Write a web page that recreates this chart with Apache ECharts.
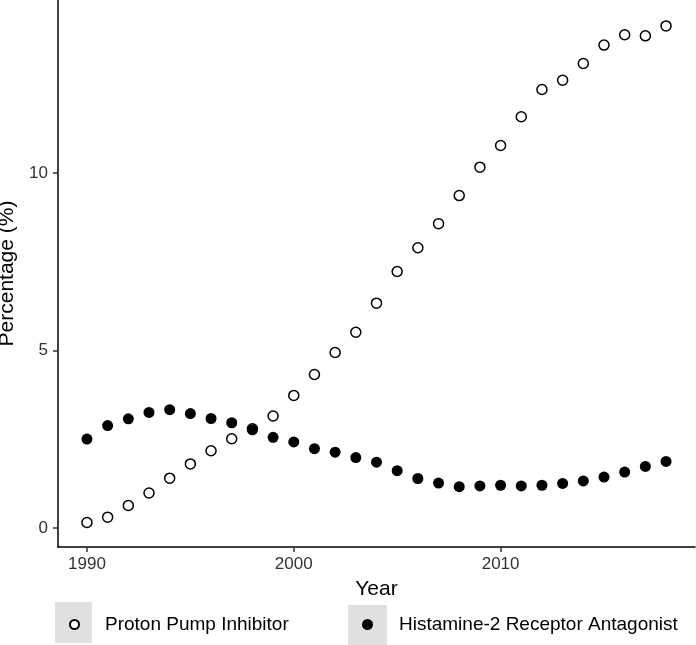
<!DOCTYPE html>
<html>
<head>
<meta charset="utf-8">
<script src="https://cdn.jsdelivr.net/npm/echarts@6/dist/echarts.min.js"></script>
<style>
html,body{margin:0;padding:0;background:#fff;}
#chart{width:696px;height:645px;}
</style>
</head>
<body>
<div id="chart"></div>
<script>
var years = [1990,1991,1992,1993,1994,1995,1996,1997,1998,1999,2000,2001,2002,2003,2004,2005,2006,2007,2008,2009,2010,2011,2012,2013,2014,2015,2016,2017,2018];
var ppi = [0.16,0.31,0.64,0.99,1.41,1.81,2.18,2.52,2.80,3.16,3.74,4.33,4.95,5.52,6.34,7.23,7.90,8.58,9.37,10.17,10.78,11.59,12.36,12.62,13.09,13.61,13.90,13.87,14.15];
var h2ra = [2.51,2.89,3.08,3.26,3.34,3.23,3.09,2.97,2.77,2.56,2.43,2.24,2.14,1.99,1.86,1.62,1.40,1.27,1.17,1.19,1.21,1.19,1.21,1.26,1.33,1.44,1.58,1.74,1.88];
var xTicks = [1990,2000,2010];
var yTicks = [0,5,10];
var seriesNames = ['Proton Pump Inhibitor','Histamine-2 Receptor Antagonist'];

function pairs(xs, ys){ return xs.map(function(x,i){ return [x, ys[i]]; }); }

var FONT = '"Liberation Sans", Arial, Helvetica, sans-serif';
var chart = echarts.init(document.getElementById('chart'), null, {renderer:'canvas'});
chart.setOption({
  animation:false,
  backgroundColor:'#fff',
  textStyle:{fontFamily:FONT},
  grid:{left:58,right:1,top:0,bottom:98,containLabel:false,outerBoundsMode:'none'},
  xAxis:{
    type:'value', min:1988.6, max:2019.4,
    name:'Year', nameLocation:'middle', nameGap:32,
    nameTextStyle:{color:'#000',fontSize:21,fontFamily:FONT},
    axisLine:{onZero:false,lineStyle:{color:'#000',width:1.5}},
    axisTick:{show:true,length:5,lineStyle:{color:'#333',width:1.5},customValues:xTicks},
    axisLabel:{color:'#333',fontSize:17,margin:9,fontFamily:FONT,customValues:xTicks,
      formatter:function(v){return String(v);}},
    splitLine:{show:false}
  },
  yAxis:{
    type:'value', min:-0.53, max:14.88,
    name:'Percentage (%)', nameLocation:'middle', nameGap:38,
    nameTextStyle:{color:'#000',fontSize:21,fontFamily:FONT},
    axisLine:{onZero:false,lineStyle:{color:'#000',width:1.5}},
    axisTick:{show:true,length:5,lineStyle:{color:'#333',width:1.5},customValues:yTicks},
    axisLabel:{color:'#333',fontSize:17,margin:10,fontFamily:FONT,customValues:yTicks,
      formatter:function(v){return String(v);}},
    splitLine:{show:false}
  },
  graphic:[
    {type:'rect',z:0,shape:{x:55,y:602,width:37,height:41},style:{fill:'#e0e0e0'}},
    {type:'rect',z:0,shape:{x:348,y:605,width:39,height:40},style:{fill:'#e0e0e0'}}
  ],
  legend:[
    {data:[seriesNames[0]],left:69,top:614.5,padding:0,icon:'circle',itemWidth:9,itemHeight:9,itemGap:0,z:10,
     textStyle:{color:'#000',fontSize:19,lineHeight:20,fontFamily:FONT,padding:[0,0,0,21]}},
    {data:[seriesNames[1]],left:362,top:614.5,padding:0,icon:'circle',itemWidth:11,itemHeight:11,itemGap:0,z:10,
     textStyle:{color:'#000',fontSize:19,lineHeight:20,fontFamily:FONT,padding:[0,0,0,21]}}
  ],
  series:[
    {name:seriesNames[0],type:'scatter',data:pairs(years,ppi),symbol:'circle',symbolSize:10,
     itemStyle:{color:'#fff',borderColor:'#000',borderWidth:1.5,opacity:1}},
    {name:seriesNames[1],type:'scatter',data:pairs(years,h2ra),symbol:'circle',symbolSize:11,
     itemStyle:{color:'#000',borderColor:'#000',borderWidth:0,opacity:1}}
  ]
});
</script>
</body>
</html>
